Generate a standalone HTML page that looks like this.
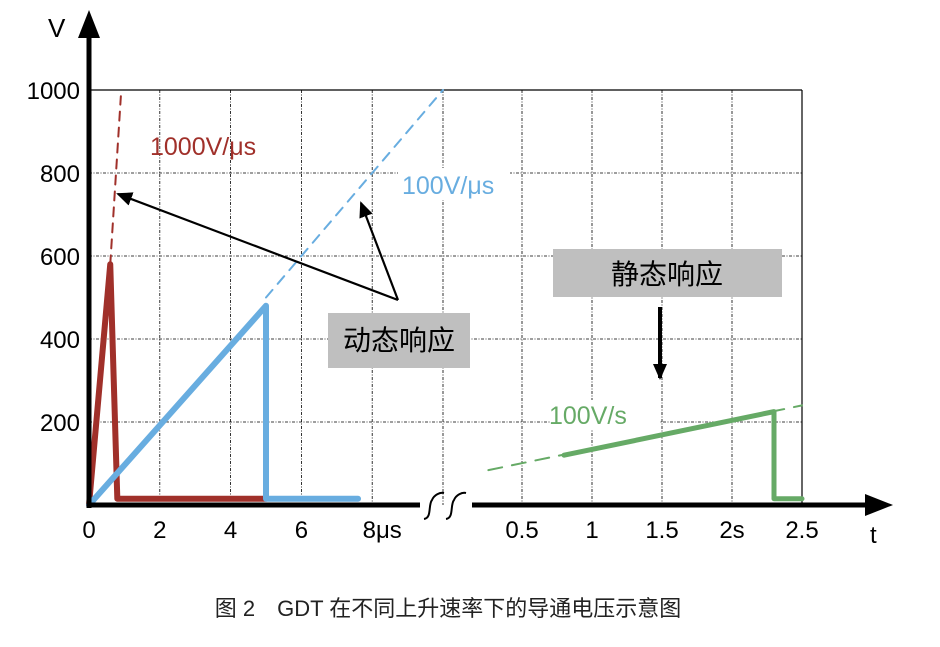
<!DOCTYPE html>
<html><head><meta charset="utf-8"><style>
body{margin:0;background:#fff}
svg text{font-family:"Liberation Sans","Noto Sans CJK SC",sans-serif}
</style></head><body>
<svg width="940" height="642" viewBox="0 0 940 642">
<g id="grid"></g>
<g id="series"></g>
<g id="axes"></g>
<text x="448" y="616" font-size="22" text-anchor="middle" fill="#222">图 2　GDT 在不同上升速率下的导通电压示意图</text>
</svg>
<script>
const yTicks=[200,400,600,800,1000];
const usTicks=[0,2,4,6,8];
const usTickLabels=["0","2","4","6","8μs"];
const usGrid=[2,4,6,8,10];
const sTicks=[0.5,1,1.5,2,2.5];
const sTickLabels=["0.5","1","1.5","2s","2.5"];
const redT=[0,0.6,0.8,5], redV=[0,580,15,15];
const redDashT=[0.6,0.9], redDashV=[580,985];
const blueT=[0,5,5,7.6], blueV=[0,480,15,15];
const blueDashT=[5,10], blueDashV=[500,1000];
const greenT=[0.8,2.3,2.3,2.5], greenV=[120,225,15,15];
const greenDashT=[0.26,2.5], greenDashV=[84,240];
const NS="http://www.w3.org/2000/svg";
const X0=89,Y0=505;
const yS=v=>Y0-v*0.415;
const xUs=t=>X0+t*35.4;
const xS=t=>452+t*140;
function mk(tag,attrs,parent){const e=document.createElementNS(NS,tag);for(const k in attrs)e.setAttribute(k,attrs[k]);document.getElementById(parent).appendChild(e);return e;}
yTicks.forEach((v,i)=>{const l=mk('line',{x1:X0,x2:802,y1:yS(v),y2:yS(v),stroke:'#000','stroke-width':v==1000?1.2:0.8,'stroke-dasharray':v==1000?'':'3,1.5,1,1.5'},'grid');


const t=mk('text',{x:80,y:yS(v)+9,'font-size':24,'text-anchor':'end'},'axes');t.textContent=v;

});
usGrid.forEach(t=>{const l=mk('line',{x1:xUs(t),x2:xUs(t),y1:yS(1000),y2:Y0,stroke:'#000','stroke-width':0.8,'stroke-dasharray':'3,1.5,1,1.5'},'grid');

});
sTicks.forEach(t=>{const l=mk('line',{x1:xS(t),x2:xS(t),y1:yS(1000),y2:Y0,stroke:'#000','stroke-width':t==2.5?1.2:0.8,'stroke-dasharray':t==2.5?'':'3,1.5,1,1.5'},'grid');

});
usTicks.forEach((t,i)=>{const e=mk('text',{x:xUs(t)+(i==4?10:0),y:538,'font-size':24,'text-anchor':'middle'},'axes');e.textContent=usTickLabels[i];

});
sTicks.forEach((t,i)=>{const e=mk('text',{x:xS(t),y:538,'font-size':24,'text-anchor':'middle'},'axes');e.textContent=sTickLabels[i];

});
function poly(ts,vs,xf,color,w,dash,name){const p=mk('polyline',{points:ts.map((t,i)=>xf(t)+','+yS(vs[i])).join(' '),fill:'none',stroke:color,'stroke-width':w,'stroke-linejoin':'round','stroke-linecap':'round','stroke-dasharray':dash||''},'series');

}
poly(redDashT,redDashV,xUs,'#a0302a',2,'9,7','red-dashed-line');
poly(blueDashT,blueDashV,xUs,'#68ade0',2,'10,8','blue-dashed-line');
poly(greenDashT,greenDashV,xS,'#66aa66',2,'14,10','green-dashed-line');
poly(redT,redV,xUs,'#a0302a',6,'','red-series');
poly(blueT,blueV,xUs,'#68ade0',6,'','blue-series');
poly(greenT,greenV,xS,'#66aa66',5,'','green-series');
</script>
<svg width="940" height="642" style="position:absolute;left:0;top:0">
<defs>
<marker id="ah2" markerWidth="16" markerHeight="14" refX="14" refY="7" orient="auto" markerUnits="userSpaceOnUse"><path d="M0,0 L16,7 L0,14z" fill="#000"/></marker>
<marker id="ah3" markerWidth="16" markerHeight="14" refX="14" refY="7" orient="auto" markerUnits="userSpaceOnUse"><path d="M0,0 L16,7 L0,14z" fill="#000"/></marker></defs>
<line x1="89" y1="508" x2="89" y2="30" stroke="#000" stroke-width="5"/>
<path d="M78,38 L89,10 L100,38z" fill="#000"/>
<line x1="87" y1="505" x2="420" y2="505" stroke="#000" stroke-width="5"/>
<line x1="472" y1="505" x2="870" y2="505" stroke="#000" stroke-width="5"/>
<path d="M865,494 L893,505 L865,516z" fill="#000"/>
<path d="M424,519 C432,518 428,505 432,500 C434,495 440,492 444,493 M446,519 C454,518 450,505 454,500 C456,495 462,492 466,493" fill="none" stroke="#000" stroke-width="2"/>
<text x="48" y="37" font-size="26">V</text>
<text x="870" y="543" font-size="24">t</text>
<text x="150" y="155" font-size="25" fill="#a0302a">1000V/μs</text>
<rect x="398" y="168" width="112" height="32" fill="#fff"/>
<text x="402" y="194" font-size="25" fill="#68ade0">100V/μs</text>
<rect x="551" y="400" width="108" height="30" fill="#fff"/>
<text x="549" y="424" font-size="25" fill="#66aa66">100V/s</text>
<line x1="398" y1="300" x2="118" y2="194" stroke="#000" stroke-width="2.2" marker-end="url(#ah2)"/>
<line x1="398" y1="300" x2="361" y2="203" stroke="#000" stroke-width="2.2" marker-end="url(#ah2)"/>
<rect x="328" y="313" width="142" height="55" fill="#bfbfbf"/>
<text x="399" y="350" font-size="28" text-anchor="middle">动态响应</text>
<rect x="553" y="249" width="229" height="48" fill="#bfbfbf"/>
<text x="667" y="284" font-size="28" text-anchor="middle">静态响应</text>
<line x1="660" y1="307" x2="660" y2="378" stroke="#000" stroke-width="4" marker-end="url(#ah3)"/>
</svg>
</body></html>
